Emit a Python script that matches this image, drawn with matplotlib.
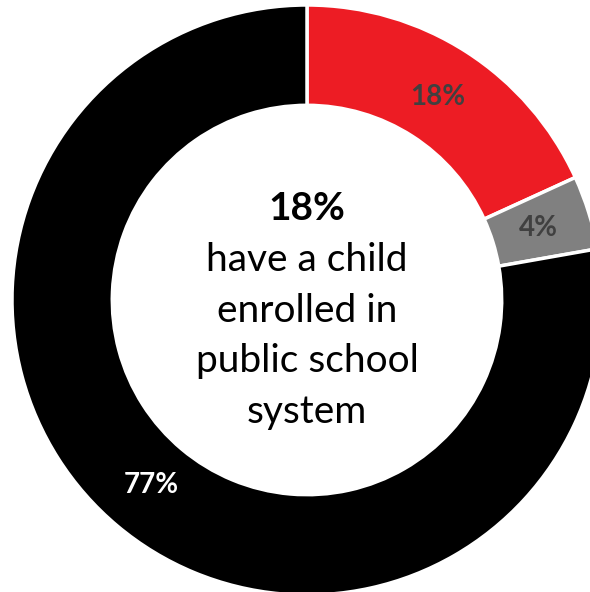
import matplotlib
matplotlib.use("Agg")
import matplotlib.pyplot as plt

categories = ["Have child in public school", "Other", "No child in public school"]
values = [18, 4, 77]
value_labels = ["18%", "4%", "77%"]
colors = ["#ED1C24", "#808080", "#000000"]
label_colors = ["#404040", "#404040", "#FFFFFF"]
center_value = "18%"
center_text = "have a child\nenrolled in\npublic school\nsystem"

plt.rcParams['font.family'] = ['Lato', 'DejaVu Sans']

fig = plt.figure(figsize=(5.90, 5.92), dpi=100)
ax = fig.add_axes([0, 0, 1, 1])

cx, cy, R = 307, 292, 295
wedges, texts, autotexts = ax.pie(
    values, colors=colors, startangle=90, counterclock=False,
    center=(cx, cy), radius=R, frame=True,
    wedgeprops=dict(width=R * 0.34, edgecolor='white', linewidth=2.5),
    autopct='%1.0f%%', pctdistance=0.82)
for t, lab, c in zip(autotexts, value_labels, label_colors):
    t.set_text(lab)
    t.set_color(c)
    t.set_fontsize(20)
    t.set_fontweight('bold')
ax.set_xlim(0, 590)
ax.set_ylim(0, 592)
ax.set_aspect('equal')
ax.axis('off')

ax.text(cx, 592 - 208, center_value, ha='center', va='center',
        fontsize=28, fontweight='bold', color='black')
ax.text(cx, 592 - 336, center_text, ha='center', va='center',
        fontsize=28, color='black', linespacing=1.5)

fig.savefig("out.png", dpi=100)
